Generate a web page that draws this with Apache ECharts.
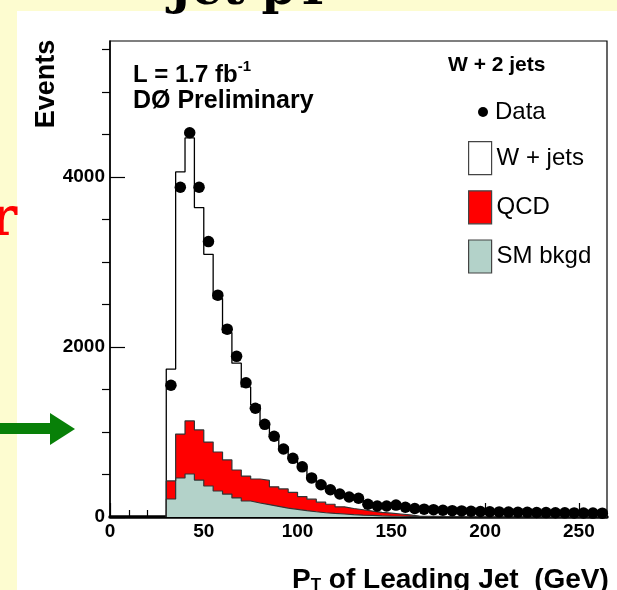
<!DOCTYPE html>
<html>
<head>
<meta charset="utf-8">
<script src="https://cdn.jsdelivr.net/npm/echarts@6/dist/echarts.min.js"></script>
<style>
html, body { margin: 0; padding: 0; background: #fdfcd0; }
#main { width: 617px; height: 590px; }
</style>
</head>
<body>
<div id="main"></div>
<script>
// 5 GeV bins from 30 to 265 GeV (47 bins)
var binStart = 30;
var binWidth = 5;

// data points, events per bin
var dataEvents = [1550, 3880, 4520, 3880, 3240, 2610, 2210, 1890, 1580, 1280,
  1090, 950, 800, 690, 590, 460, 380, 320, 270, 235,
  220, 150, 130, 130, 140, 115, 100, 92, 86, 80,
  75, 72, 68, 65, 62, 60, 58, 56, 55, 53,
  52, 50, 49, 48, 47, 46, 45];

// stacked MC components, events per bin
var smBkgd = [212, 459, 506, 435, 365, 306, 270, 224, 188, 165,
  145, 125, 105, 90, 75, 62, 50, 42, 35, 28,
  22, 18, 14, 11, 9, 7, 5, 4, 4, 3,
  3, 2, 2, 2, 1, 1, 1, 1, 1, 1,
  0, 0, 0, 0, 0, 0, 0];
var qcd = [212, 517, 624, 589, 517, 459, 401, 329, 294, 282,
  285, 230, 225, 200, 165, 148, 125, 108, 85, 72,
  63, 52, 41, 34, 26, 18, 5, 4, 3, 2,
  2, 1, 1, 1, 1, 0, 0, 0, 0, 0,
  0, 0, 0, 0, 0, 0, 0];
var wJets = [1316, 3084, 3330, 2616, 2208, 1805, 1499, 1257, 1048, 873,
  680, 610, 495, 405, 340, 270, 225, 180, 155, 135,
  115, 100, 90, 80, 75, 70, 75, 70, 65, 61,
  56, 54, 50, 47, 45, 43, 41, 39, 37, 35,
  34, 32, 30, 29, 28, 27, 26];

var xMajorTicks = [0, 50, 100, 150, 200, 250];
var xMinorTicks = [10, 20, 30, 40, 60, 70, 80, 90, 110, 120, 130, 140,
  160, 170, 180, 190, 210, 220, 230, 240, 260];
var yMajorTicks = [0, 2000, 4000];
var yMinorTicks = [500, 1000, 1500, 2500, 3000, 3500, 4500, 5000, 5500];

var xMax = 265;
var yMax = 5600;

var font = 'Liberation Sans';

// cumulative stack tops
var smTop = [], qcdTop = [], allTop = [];
for (var i = 0; i < smBkgd.length; i++) {
  smTop.push(smBkgd[i]);
  qcdTop.push(smBkgd[i] + qcd[i]);
  allTop.push(smBkgd[i] + qcd[i] + wJets[i]);
}

// histogram outline as step points at bin edges
function stepData(vals) {
  var out = [[binStart, 0]];
  for (var i = 0; i < vals.length; i++) {
    out.push([binStart + i * binWidth, vals[i]]);
  }
  out.push([binStart + vals.length * binWidth, vals[vals.length - 1]]);
  return out;
}

var points = dataEvents.map(function (v, i) {
  return [binStart + (i + 0.5) * binWidth, v];
});

function histSeries(name, vals, fill, edge, width) {
  return {
    name: name,
    type: 'line',
    step: 'end',
    data: stepData(vals),
    symbol: 'none',
    lineStyle: { color: edge, width: width },
    itemStyle: { color: fill },
    areaStyle: { color: fill, opacity: 1 },
    silent: true,
    animation: false
  };
}

function plainNum(v) { return String(v); }

var option = {
  backgroundColor: 'transparent',
  animation: false,
  grid: {
    left: 110, right: 10, top: 41, bottom: 73,
    show: true, backgroundColor: '#fff',
    borderColor: '#000', borderWidth: 1.2
  },
  xAxis: [
    {
      type: 'value', min: 0, max: xMax, position: 'bottom',
      axisLine: { lineStyle: { color: '#000', width: 3.5 } },
      axisTick: { inside: true, length: 14, customValues: xMajorTicks, lineStyle: { color: '#000', width: 1.2 } },
      axisLabel: { customValues: xMajorTicks, formatter: plainNum, color: '#000', fontFamily: font, fontWeight: 'bold', fontSize: 19, margin: 5 },
      splitLine: { show: false }
    },
    {
      type: 'value', min: 0, max: xMax, position: 'bottom',
      axisLine: { show: false },
      axisTick: { inside: true, length: 7, customValues: xMinorTicks, lineStyle: { color: '#000', width: 1.2 } },
      axisLabel: { show: false },
      splitLine: { show: false }
    }
  ],
  yAxis: [
    {
      type: 'value', min: 0, max: yMax,
      axisLine: { show: true, lineStyle: { color: '#000', width: 1.5 } },
      axisTick: { show: true, inside: true, length: 15, customValues: yMajorTicks, lineStyle: { color: '#000', width: 1.2 } },
      axisLabel: { customValues: yMajorTicks, formatter: plainNum, color: '#000', fontFamily: font, fontWeight: 'bold', fontSize: 19, margin: 5 },
      splitLine: { show: false }
    },
    {
      type: 'value', min: 0, max: yMax,
      axisLine: { show: false },
      axisTick: { show: true, inside: true, length: 8, customValues: yMinorTicks, lineStyle: { color: '#000', width: 1.2 } },
      axisLabel: { show: false },
      splitLine: { show: false }
    }
  ],
  legend: [
    {
      data: [{ name: 'Data', icon: 'circle', itemStyle: { color: '#000', borderWidth: 0 } }],
      left: 478, top: 100, padding: 0, itemWidth: 14, itemHeight: 10,
      selectedMode: false,
      textStyle: { fontFamily: font, fontSize: 24, color: '#000' }
    },
    {
      data: [
        { name: 'W + jets', icon: 'rect', itemStyle: { color: '#fff', borderColor: '#444', borderWidth: 1.2 } },
        { name: 'QCD', icon: 'rect', itemStyle: { color: '#ff0000', borderColor: '#444', borderWidth: 1.2 } },
        { name: 'SM bkgd', icon: 'rect', itemStyle: { color: '#b3d2c9', borderColor: '#444', borderWidth: 1.2 } }
      ],
      orient: 'vertical', left: 468, top: 141, padding: 0,
      itemWidth: 23, itemHeight: 33, itemGap: 15,
      selectedMode: false,
      textStyle: { fontFamily: font, fontSize: 24, color: '#000' }
    }
  ],
  series: [
    histSeries('W + jets', allTop, '#fff', '#000', 1.3),
    histSeries('QCD', qcdTop, '#ff0000', '#333', 1.2),
    histSeries('SM bkgd', smTop, '#b3d2c9', '#333', 1.2),
    {
      name: 'Data',
      type: 'scatter',
      data: points,
      symbol: 'circle',
      symbolSize: 11.5,
      itemStyle: { color: '#000', opacity: 1 },
      silent: true,
      z: 5
    }
  ],
  graphic: [
    // white page panel
    { type: 'rect', z: -10, shape: { x: 17, y: 11, width: 620, height: 600 }, style: { fill: '#fff' } },
    // slide title (cut off at top)
    { type: 'text', x: 250, y: 16, z: 10, style: { text: 'Jet pT', font: 'bold 48px "DejaVu Serif"', fill: '#000', align: 'center', verticalAlign: 'bottom' } },
    // red letter at left edge
    { type: 'text', x: 17, y: 221, style: { text: 'r', font: 'bold 54px "DejaVu Serif"', fill: '#f00', align: 'right', verticalAlign: 'middle' } },
    // green arrow
    { type: 'polygon', shape: { points: [[0, 423], [50, 423], [50, 413], [75, 429], [50, 445], [50, 434], [0, 434]] }, style: { fill: '#088008' } },
    // axis titles
    { type: 'text', x: 47, y: 84, rotation: Math.PI / 2, style: { text: 'Events', font: 'bold 27px "Liberation Sans"', fill: '#000', align: 'center', verticalAlign: 'middle' } },
    {
      type: 'text', x: 292, y: 578, style: {
        text: '{m|P}{s|T}{m| of Leading Jet  (GeV)}', align: 'left', verticalAlign: 'middle',
        rich: {
          m: { font: 'bold 28px "Liberation Sans"', fill: '#000', lineHeight: 32, verticalAlign: 'bottom' },
          s: { font: 'bold 17px "Liberation Sans"', fill: '#000', lineHeight: 16, verticalAlign: 'bottom' }
        }
      }
    },
    // annotations in the frame
    {
      type: 'text', x: 133, y: 73, style: {
        text: '{m|L = 1.7 fb}{s|-1}', align: 'left', verticalAlign: 'middle',
        rich: {
          m: { font: 'bold 24px "Liberation Sans"', fill: '#000', lineHeight: 28, verticalAlign: 'bottom' },
          s: { font: 'bold 15px "Liberation Sans"', fill: '#000', lineHeight: 16, verticalAlign: 'top' }
        }
      }
    },
    { type: 'text', x: 133, y: 101, style: { text: 'D\u00d8 Preliminary', font: 'bold 25px "Liberation Sans"', fill: '#000', align: 'left', verticalAlign: 'middle' } },
    { type: 'text', x: 448, y: 65, style: { text: 'W + 2 jets', font: 'bold 21px "Liberation Sans"', fill: '#000', align: 'left', verticalAlign: 'middle' } }
  ]
};

var chartDom = document.getElementById('main');
var myChart = echarts.init(chartDom);
option && myChart.setOption(option);
</script>
</body>
</html>
